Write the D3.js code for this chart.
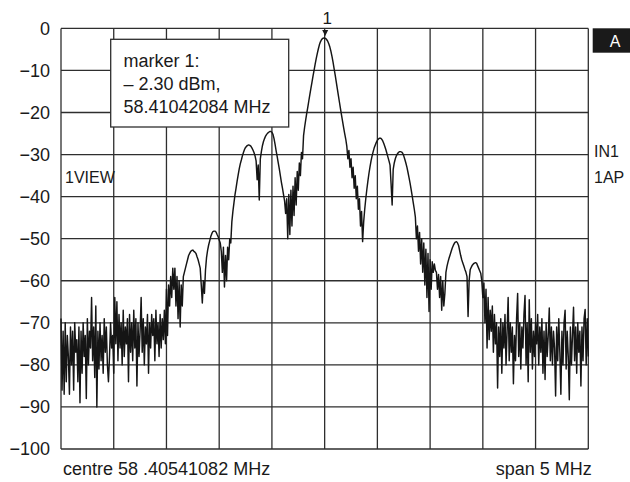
<!DOCTYPE html>
<html>
<head>
<meta charset="utf-8">
<title>Spectrum</title>
<script src="https://d3js.org/d3.v7.min.js"></script>
<style type="text/css">
    body { margin: 0; background: #fff; }
    svg text { font-family: "Liberation Sans", Arial, sans-serif; fill: #1a1a1a; }
</style>
</head>
<body>
<div id="chart"></div>
<script type="text/javascript">
// analyser settings
var centreMHz = 58.40541082;
var spanMHz = 5;
var markerMHz = 58.41042084;
var markerDbm = -2.30;

var levelTicks = [0, -10, -20, -30, -40, -50, -60, -70, -80, -90, -100];
var freqDivs = [-2.5, -2, -1.5, -1, -0.5, 0, 0.5, 1, 1.5, 2, 2.5];

// trace, dBm, 501 sweep points (left to right)
var noiseLeft = [
    -69, -86, -72, -87, -70, -84, -73, -78, -87, -71,
    -80, -72, -86, -70, -77, -74, -84, -71, -89, -72,
    -82, -70, -78, -73, -88, -69, -80, -72, -76, -64,
    -79, -71, -83, -66, -90, -72, -81, -70, -79, -73,
    -82, -69, -77, -71, -80, -84, -78, -70, -76, -73,
    -82, -64, -75, -65, -79, -68, -76, -70, -80, -67,
    -78, -71, -75, -69, -84, -68, -77, -70, -79, -67,
    -76, -69, -85, -70, -78, -72, -64, -77, -69, -80,
    -71, -75, -68, -82, -70, -76, -68, -73, -69, -79,
    -67, -75, -70, -78, -68, -76, -69, -74, -67, -75
];
var lobesLeft = [
    -62, -73, -61, -66, -59, -64, -57, -62, -57, -66,
    -59, -69, -60, -71, -61, -66, -59, -58, -57, -56,
    -55, -54, -53.5, -53, -52.8, -52.7, -53, -53.2, -53.5, -54.3,
    -55, -56, -57, -61, -65.3, -60, -63, -57.5, -54.5, -52.8,
    -51.5, -50.5, -49.5, -48.8, -48.3, -48.2, -48.2, -48.4, -49, -49.5,
    -50.3, -51, -53, -58, -52, -61.5, -54, -60, -52, -55,
    -50, -51, -46, -43.5, -41.5, -39.5, -38, -36.3, -34.8, -33.4,
    -32.2, -31.3, -30.3, -29.5, -28.8, -28.3, -28, -27.8, -27.7, -27.8,
    -28, -28.4, -28.9, -29.5, -30.3, -31.5, -36, -32.5, -40.8, -31,
    -29.3, -27.9, -26.9, -26.2, -25.6, -25.2, -24.9, -24.7, -24.5, -24.5,
    -24.7, -25.2, -26.2, -27.6, -29.1, -30.5, -32, -33.4, -35, -36.6,
    -38, -39.5, -41, -44, -40.5, -50, -39.5, -49, -38.5, -47,
    -37.5, -44.5, -35.5, -42, -34, -38.5, -32, -35, -29.5, -31,
    -25.5
];
var mainLobe = [
    -23.5, -21.8, -20.2, -18.8, -17.2, -15.7, -14.2, -12.8, -11.3,
    -9.9, -8.5, -7.2, -6, -4.9, -3.9, -3.2, -2.7, -2.4, -2.3,
    -2.3, -2.4, -2.7, -3.1, -3.7, -4.5, -5.5, -6.7, -8.1, -9.6,
    -11.1, -12.7, -14.3, -15.9, -17.5, -19.1, -20.6, -22.1, -23.6, -25,
    -26.3
];
var lobesRight = [
    -28, -31, -29, -33, -31, -35.5, -33, -38, -35,
    -40.5, -37.5, -43, -40.5, -47, -43.5, -50.7, -46, -43, -40.5,
    -38.3, -36.3, -34.5, -32.9, -31.5, -30.3, -29.3, -28.4, -27.7, -27.1,
    -26.6, -26.3, -26.1, -26.1, -26.3, -26.7, -27.3, -28, -28.8, -29.7,
    -30.6, -31.5, -32.5, -37, -42, -33.5, -32, -31, -30.3, -29.8,
    -29.5, -29.3, -29.3, -29.4, -29.7, -30.3, -31.1, -32, -33, -34.2,
    -35.5, -36.8, -38.3, -39.8, -41.4, -43, -44.8, -50, -47, -53,
    -48.5, -56, -50, -58, -51, -61, -52.5, -64, -53.5, -67.3,
    -55, -62, -55.5, -58, -56, -57.5, -58, -62, -58.5, -64,
    -59, -67, -60, -66, -63, -58, -56.6, -55.5, -54.6, -53.8,
    -53, -52.2, -51.6, -51.1, -50.8, -50.7, -51, -51.6, -52.8, -54,
    -55, -55.8, -56.5, -57.3, -58, -59, -68.5, -60, -57.4, -56.8,
    -56.3, -56, -55.8, -55.7, -55.8, -56.4, -57, -57.6, -58.2, -60
];
var noiseRight = [
    -64, -60.5, -70, -62, -76, -64, -74, -67, -72, -66,
    -77, -68, -75, -70, -85.5, -71, -78, -69, -82, -70,
    -76, -68, -80, -72, -64, -79, -70, -77, -71, -84.5,
    -73, -79, -69, -63, -78, -70, -81, -71, -76, -68,
    -63.5, -80, -70, -84, -64.5, -77, -69, -81, -72, -78,
    -70, -75, -68, -80, -71, -77, -69, -82, -72, -83.5,
    -70, -78, -73, -66.5, -79, -71, -80, -72, -76, -87.4,
    -71, -79, -69, -77, -87, -72, -80, -70, -67, -81,
    -72, -78, -88.3, -71, -80, -73, -66.3, -79, -71, -82,
    -70, -77, -72, -85, -71, -79, -69, -66.8, -80, -69,
    -78
];

var trace = noiseLeft.concat(lobesLeft, mainLobe, lobesRight, noiseRight);

var width = 630;
var height = 482;

var svg = d3.select('#chart').append('svg')
    .attr('width', width)
    .attr('height', height);

// frequency offset from centre (MHz) and level (dBm)
var x = d3.scaleLinear()
    .domain([-spanMHz / 2, spanMHz / 2])
    .range([61, 588.3]);

var y = d3.scaleLinear()
    .domain([-100, 0])
    .range([449, 28.4]);

var step = spanMHz / (trace.length - 1);

// graticule
var grid = svg.append('g')
    .attr('stroke', '#2e2e2e')
    .attr('stroke-width', 1.3)
    .attr('fill', 'none');

grid.selectAll('.v').data(freqDivs)
    .enter().append('line')
    .attr('x1', function(d){ return x(d); })
    .attr('x2', function(d){ return x(d); })
    .attr('y1', y(0))
    .attr('y2', y(-100));

grid.selectAll('.h').data(levelTicks)
    .enter().append('line')
    .attr('x1', x(-spanMHz / 2))
    .attr('x2', x(spanMHz / 2))
    .attr('y1', function(d){ return y(d); })
    .attr('y2', function(d){ return y(d); });

// level labels
svg.selectAll('.ylab').data(levelTicks)
    .enter().append('text')
    .attr('x', 50)
    .attr('y', function(d){ return y(d); })
    .attr('dy', '0.35em')
    .attr('text-anchor', 'end')
    .style('font-size', '18px')
    .text(function(d){ return d === 0 ? '0' : '\u2212' + Math.abs(d); });

// trace
var line = d3.line()
    .x(function(d, i){ return x(-spanMHz / 2 + i * step); })
    .y(function(d){ return y(d); });

svg.append('path')
    .datum(trace)
    .attr('d', line)
    .attr('fill', 'none')
    .attr('stroke', '#151515')
    .attr('stroke-width', 1.45)
    .attr('stroke-linejoin', 'round');

// marker
var mx = x(markerMHz - centreMHz);
var my = y(markerDbm);
svg.append('path')
    .attr('d', 'M' + (mx - 3) + ',' + (my - 8) + 'L' + (mx + 3) + ',' + (my - 8) + 'L' + mx + ',' + (my - 2) + 'Z')
    .attr('fill', '#1a1a1a');
svg.append('text')
    .attr('x', mx + 2)
    .attr('y', 24)
    .attr('text-anchor', 'middle')
    .style('font-size', '17px')
    .text('1');

// marker readout box
svg.append('rect')
    .attr('x', 110.7)
    .attr('y', 39.3)
    .attr('width', 178)
    .attr('height', 87.7)
    .attr('fill', '#fff')
    .attr('stroke', '#2e2e2e')
    .attr('stroke-width', 1.3);

var readout = ['marker 1:', '\u2013 ' + Math.abs(markerDbm).toFixed(2) + ' dBm,', markerMHz.toFixed(8) + ' MHz'];
svg.selectAll('.readout').data(readout)
    .enter().append('text')
    .attr('x', 123.5)
    .attr('y', function(d, i){ return 66.7 + i * 23.3; })
    .style('font-size', '18px')
    .text(function(d){ return d; });

// side annotations
svg.append('text').attr('x', 65).attr('y', 183.3).style('font-size', '16px').text('1VIEW');
svg.append('text').attr('x', 594).attr('y', 157.3).style('font-size', '16px').text('IN1');
svg.append('text').attr('x', 594).attr('y', 182.7).style('font-size', '16px').text('1AP');

svg.append('rect')
    .attr('x', 592.7)
    .attr('y', 28.3)
    .attr('width', 37.3)
    .attr('height', 24.4)
    .attr('fill', '#1a1a1a');
svg.append('text')
    .attr('x', 615)
    .attr('y', 46.7)
    .attr('text-anchor', 'middle')
    .style('font-size', '16px')
    .style('fill', '#fff')
    .text('A');

// footer
svg.append('text')
    .attr('x', 63)
    .attr('y', 475)
    .style('font-size', '18px')
    .text('centre 58 .' + centreMHz.toFixed(8).split('.')[1] + ' MHz');
svg.append('text')
    .attr('x', 591.7)
    .attr('y', 475)
    .attr('text-anchor', 'end')
    .style('font-size', '18px')
    .text('span ' + spanMHz + ' MHz');
</script>
</body>
</html>
